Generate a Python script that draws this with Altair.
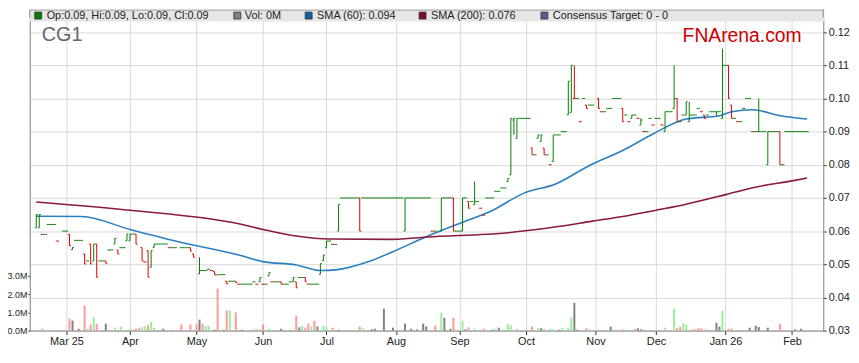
import altair as alt
import pandas as pd
import numpy as np

# ---------------- data ----------------
# x positions are trading-day indices (weekdays) starting Mon 17 Feb 2025
month_days = [10, 31, 53, 75, 96, 119, 140, 162, 185, 205, 228, 250]
month_labels = ["Mar 25", "Apr", "May", "Jun", "Jul", "Aug", "Sep", "Oct",
                "Nov", "Dec", "Jan 26", "Feb"]
price_ticks = [0.03, 0.04, 0.05, 0.06, 0.07, 0.08, 0.09, 0.10, 0.11, 0.12]
vol_ticks = [0, 1, 2, 3]

# days with a price range (open, high, low, close)
bar_days = [0, 1, 11, 12, 16, 18, 19, 20, 23, 26,
            27, 30, 31, 33, 35, 37, 38, 39, 51, 52,
            54, 59, 63, 66, 74, 77, 81, 85, 86, 89,
            94, 95, 96, 100, 107, 122, 134, 138, 141, 143,
            145, 156, 157, 158, 159, 164, 166, 167, 168, 171,
            176, 177, 178, 182, 186, 194, 197, 200, 208, 211,
            212, 215, 216, 221, 225, 227, 229, 230, 239, 242,
            246]
bar_open = [.061, .061, .059, .0544, .0531, .0561, .051, .0561, .051, .0561,
            .0543, .0571, .0571, .0591, .055, .0541, .0491, .055, .055, .0531,
            .0471, .0478, .0449, .0449, .0447, .0465, .0447, .0447, .0447, .046,
            .047, .0511, .055, .060, .07, .06, .06, .07, .06, .0689,
            .068, .0749, .077, .0935, .088, .0851, .088, .087, .085, .081,
            .0951, .0958, .10, .098, .10, .097, .094, .092, .09, .097,
            .10, .095, .093, .095, .096, .094, .11, .098, .09, .08,
            .09]
bar_high = [.065, .065, .059, .0551, .0531, .0561, .0561, .0561, .051, .0578,
            .0543, .0591, .0591, .0591, .055, .0541, .0541, .0561, .055, .0531,
            .0521, .0478, .0449, .0449, .046, .0475, .0447, .046, .0447, .046,
            .0502, .0528, .057, .068, .07, .07, .07, .07, .07, .0689,
            .075, .0759, .094, .094, .094, .0851, .089, .089, .085, .089,
            .1052, .11, .11, .098, .10, .097, .095, .094, .096, .11,
            .10, .099, .099, .095, .096, .115, .11, .098, .10, .09,
            .09]
bar_low = [.061, .061, .0556, .0544, .0501, .0501, .051, .0461, .0503, .0561,
           .0531, .0571, .0571, .0561, .051, .0461, .0491, .055, .054, .0521,
           .0471, .0468, .0441, .0445, .0447, .0465, .044, .0447, .0429, .0447,
           .047, .0511, .055, .060, .06, .06, .06, .06, .06, .0669,
           .068, .0749, .077, .089, .088, .083, .088, .087, .083, .081,
           .0951, .0958, .10, .097, .097, .093, .094, .092, .09, .097,
           .093, .095, .093, .094, .0948, .094, .10, .094, .09, .08,
           .08]
bar_close = [.065, .065, .0556, .0551, .0501, .0501, .0561, .0461, .0503, .0578,
             .0531, .0591, .0591, .0561, .051, .0461, .0541, .0561, .054, .0521,
             .0481, .0468, .0441, .0445, .046, .0475, .044, .046, .0429, .0447,
             .0502, .0528, .057, .068, .06, .07, .07, .06, .07, .0669,
             .0689, .0759, .094, .094, .094, .083, .089, .089, .083, .089,
             .1052, .11, .10, .097, .097, .093, .095, .0935, .096, .10,
             .093, .099, .095, .094, .096, .11, .10, .094, .09, .09,
             .08]

# days that traded at a single price
flat_days = [2, 3, 4, 5, 6, 7, 9, 10, 13, 14,
             15, 17, 21, 22, 24, 25, 28, 29, 32, 36,
             40, 41, 42, 43, 44, 45, 46, 48, 49, 50,
             55, 56, 57, 58, 60, 61, 62, 64, 65, 67,
             68, 69, 70, 71, 72, 73, 75, 76, 78, 79,
             80, 82, 83, 84, 87, 88, 90, 91, 92, 93,
             97, 98, 99, 101, 102, 103, 104, 105, 106, 108,
             109, 110, 111, 112, 113, 114, 115, 116, 117, 118,
             119, 120, 121, 123, 124, 125, 126, 127, 128, 129,
             130, 131, 132, 135, 136, 137, 139, 140, 142, 144,
             146, 147, 148, 149, 150, 151, 152, 153, 154, 155,
             160, 161, 162, 163, 165, 169, 170, 172, 173, 174,
             175, 179, 180, 181, 183, 184, 187, 188, 189, 190,
             191, 192, 193, 195, 196, 198, 199, 201, 202, 203,
             204, 205, 206, 207, 209, 210, 213, 214, 217, 218,
             219, 220, 222, 223, 224, 226, 228, 231, 232, 233,
             234, 235, 236, 237, 238, 240, 241, 243, 244, 245,
             247, 248, 249, 250, 251, 252, 253, 254, 255]
flat_price = [.059, .059, .062, .062, .062, .057, .060, .060, .0572, .0572,
              .0572, .051, .051, .051, .0543, .0543, .055, .055, .0591, .0507,
              .0561, .0561, .0561, .0561, .055, .055, .055, .055, .055, .055,
              .0481, .0481, .0485, .0481, .0468, .0469, .0469, .0449, .0449, .044,
              .044, .044, .044, .044, .0447, .044, .044, .044, .0447, .0447,
              .0447, .044, .044, .0447, .046, .046, .044, .044, .044, .044,
              .057, .056, .056, .07, .07, .07, .07, .07, .07, .07,
              .07, .07, .07, .07, .07, .07, .07, .07, .07, .07,
              .07, .07, .07, .07, .07, .07, .07, .07, .07, .07,
              .07, .06, .06, .07, .07, .07, .06, .06, .07, .0689,
              .0689, .0669, .0648, .07, .07, .07, .072, .072, .073, .073,
              .094, .094, .094, .094, .083, .083, .08, .089, .089, .09,
              .09, .10, .093, .10, .098, .098, .096, .096, .097, .097,
              .10, .10, .10, .095, .093, .095, .094, .09, .09, .094,
              .092, .094, .094, .092, .096, .096, .093, .095, .095, .095,
              .097, .096, .095, .096, .096, .096, .11, .094, .093, .093,
              .097, .10, .10, .09, .09, .09, .09, .09, .09, .09,
              .08, .09, .09, .09, .09, .09, .09, .09, .09]

# volume (millions)
vol_days = [2, 4, 11, 12, 14, 16, 17, 18, 19, 20,
            23, 26, 27, 28, 31, 32, 33, 34, 35, 36,
            37, 38, 39, 42, 45, 48, 51, 53, 54, 55,
            56, 57, 58, 59, 60, 62, 63, 64, 66, 68,
            72, 73, 74, 75, 77, 81, 84, 86, 87, 88,
            89, 90, 91, 92, 93, 95, 96, 98, 100, 107,
            108, 111, 112, 115, 118, 122, 124, 126, 128, 129,
            132, 134, 135, 137, 138, 141, 142, 143, 145, 148,
            151, 152, 153, 154, 156, 157, 159, 164, 166, 167,
            168, 170, 171, 173, 174, 176, 177, 178, 179, 182,
            183, 186, 190, 191, 194, 195, 198, 199, 200, 201,
            204, 208, 211, 212, 213, 214, 215, 217, 218, 219,
            220, 221, 222, 225, 226, 227, 229, 230, 236, 238,
            239, 242, 246, 251, 253]
vol_m = [.1, .05, .65, .55, .1, 1.38, .1, .33, .73, .38,
         .38, .16, .05, .22, .08, .05, .1, .13, .2, .23,
         .3, .47, .16, .1, .05, .33, .33, .33, .6, .38,
         .27, .25, .05, .05, 2.3, .05, 1.1, 1.1, 1.0, .05,
         .1, .07, .08, .33, .1, .1, .05, .82, .18, .27,
         .16, .38, .23, .54, .23, .27, .18, .16, .05, .22,
         .13, .07, .1, 1.2, .16, .38, .1, .07, .38, .23,
         .29, .98, .7, .1, .7, .54, .07, .18, .1, .1,
         .05, .1, .16, .05, .38, .29, .1, .22, .16, .13,
         .07, .1, .07, .05, .14, .18, .72, 1.52, .05, .14,
         .07, .05, .22, .07, .07, .07, .09, .13, .07, .07,
         .05, .16, 1.2, .13, .2, .4, .33, .07, .07, .13,
         .13, .07, .07, .43, .22, 1.09, .1, .1, .16, .27,
         .2, .16, .38, .07, .1]
vol_dir = ["down", "up", "down", "flat", "flat", "down", "up", "down", "up", "down",
           "flat", "up", "down", "up", "up", "down", "down", "down", "up", "up",
           "down", "up", "up", "flat", "down", "down", "down", "down", "flat", "down",
           "up", "up", "up", "flat", "down", "flat", "down", "up", "down", "flat",
           "up", "down", "up", "down", "up", "flat", "down", "down", "flat", "up",
           "down", "down", "up", "down", "flat", "up", "up", "down", "flat", "down",
           "up", "flat", "flat", "flat", "flat", "flat", "flat", "flat", "flat", "flat",
           "down", "up", "flat", "flat", "down", "up", "flat", "down", "up", "down",
           "flat", "up", "flat", "up", "up", "up", "up", "down", "up", "flat",
           "down", "up", "up", "flat", "up", "up", "up", "flat", "flat", "down",
           "up", "down", "flat", "up", "down", "up", "down", "flat", "flat", "down",
           "up", "up", "up", "down", "down", "up", "up", "down", "down", "down",
           "down", "up", "up", "flat", "flat", "up", "down", "down", "flat", "flat",
           "flat", "flat", "down", "flat", "flat"]

# moving averages
sma60_days = [0, 15, 31, 47, 67, 75, 86, 94, 99, 110, 118, 129, 140, 151, 161,
              172, 183, 194, 204, 215, 226, 230, 237, 246, 255]
sma60_vals = [.0645, .0644, .0605, .0568, .0528, .0508, .0498, .0481, .0483, .0508,
              .0538, .0583, .0623, .0663, .0713, .0743, .0798, .0843, .0893, .0938,
              .0948, .0960, .0966, .0948, .0938]
sma200_days = [0, 31, 67, 75, 86, 97, 118, 129, 156, 172, 184, 194, 205, 215, 228, 237, 251, 255]
sma200_vals = [.0688, .0663, .0622, .0605, .0585, .0576, .0575, .0582, .0595, .0613,
               .0630, .0644, .0663, .0681, .0710, .0731, .0753, .0760]

legend_labels = ["Op:0.09, Hi:0.09, Lo:0.09, Cl:0.09", "Vol: 0M", "SMA (60): 0.094",
                 "SMA (200): 0.076", "Consensus Target: 0 - 0"]
legend_colors = ["#008000", "#808080", "#0a64a4", "#7a0a2a", "#5b5b8f"]

# ---------------- build tables ----------------
bars = pd.DataFrame({"day": bar_days, "o": bar_open, "h": bar_high, "l": bar_low, "c": bar_close})
flats = pd.DataFrame({"day": flat_days, "o": flat_price, "h": flat_price, "l": flat_price, "c": flat_price})
ohlc = pd.concat([bars, flats]).sort_values("day").reset_index(drop=True)
prev = ohlc["c"].shift(1).fillna(ohlc["c"])
ohlc["dir"] = np.where(ohlc["c"] > ohlc["o"], "up",
               np.where(ohlc["c"] < ohlc["o"], "down",
               np.where(ohlc["c"] >= prev, "up", "down")))
ohlc["xl"] = ohlc["day"] - 0.5
ohlc["xr"] = ohlc["day"] + 0.5

vol = pd.DataFrame({"day": vol_days, "vol": vol_m, "dir": vol_dir})
sma = pd.concat([
    pd.DataFrame({"day": sma60_days, "v": sma60_vals, "s": "SMA60"}),
    pd.DataFrame({"day": sma200_days, "v": sma200_vals, "s": "SMA200"}),
])

# ---------------- chart ----------------
FONT = "Liberation Sans"
W, H = 801, 316
xs = alt.Scale(domain=[-0.5, 258.7], nice=False, zero=False)
ps = alt.Scale(domain=[0.03, 0.1244], nice=False, zero=False)
vs = alt.Scale(domain=[0, 17.17], nice=False, zero=True)

label_expr = " : ".join(f"datum.value == {d} ? '{l}'" for d, l in zip(month_days, month_labels)) + " : ''"

x_axis = alt.Axis(values=month_days, labelExpr=label_expr, grid=True, gridColor="#d9d9d9",
                  domainColor="#8a8a8a", tickColor="#333333", tickSize=4, labelFontSize=11,
                  labelColor="#222222", labelFont=FONT, labelPadding=1, title=None,
                  labelFlush=False, labelOverlap=False)
price_axis = alt.Axis(orient="right", values=price_ticks, format=".2f", grid=True,
                      gridColor="#d9d9d9", domainColor="#8a8a8a", tickColor="#333333",
                      tickSize=3, labelFontSize=11, labelColor="#222222", labelFont=FONT,
                      labelPadding=2, title=None, labelFlush=False, labelOverlap=False)
vol_axis = alt.Axis(orient="left", values=vol_ticks,
                    labelExpr="format(datum.value, '.1f') + 'M'", grid=False,
                    domainColor="#8a8a8a", tickColor="#333333", tickSize=2, labelFontSize=9,
                    labelColor="#222222", labelFont=FONT, labelPadding=1, title=None,
                    labelFlush=False, labelOverlap=False)

vol_color = alt.Color("dir:N", scale=alt.Scale(domain=["up", "down", "flat"],
                      range=["#99ee99", "#ff9999", "#808080"]), legend=None)
price_color = alt.Color("dir:N", scale=alt.Scale(domain=["up", "down"],
                        range=["#008000", "#dd0000"]), legend=None)

vol_layer = alt.Chart(vol).mark_bar(size=2, orient="vertical").encode(
    x=alt.X("day:Q", scale=xs, axis=x_axis),
    y=alt.Y("vol:Q", scale=vs, axis=vol_axis),
    color=vol_color,
)

sma_layer = alt.Chart(sma).mark_line(strokeWidth=1.6, interpolate="monotone").encode(
    x=alt.X("day:Q", scale=xs, axis=x_axis),
    y=alt.Y("v:Q", scale=ps, axis=price_axis),
    color=alt.Color("s:N", scale=alt.Scale(domain=["SMA60", "SMA200"],
                    range=["#2b7fc0", "#8b1a40"]), legend=None),
    detail="s:N",
)

base = alt.Chart(ohlc)
hl_layer = base.mark_rule(strokeWidth=1).encode(
    x=alt.X("day:Q", scale=xs, axis=x_axis),
    y=alt.Y("l:Q", scale=ps, axis=None),
    y2="h:Q",
    color=price_color,
)
open_layer = base.mark_rule(strokeWidth=1).encode(
    x=alt.X("xl:Q", scale=xs, axis=x_axis),
    x2="day:Q",
    y=alt.Y("o:Q", scale=ps, axis=None),
    color=price_color,
)
close_layer = base.mark_rule(strokeWidth=1).encode(
    x=alt.X("day:Q", scale=xs, axis=x_axis),
    x2="xr:Q",
    y=alt.Y("c:Q", scale=ps, axis=None),
    color=price_color,
)

one = pd.DataFrame({"k": [0]})
deco = []
deco.append(alt.Chart(one).mark_rect(fill="#e6e6e6").encode(
    x=alt.value(0), x2=alt.value(802), y=alt.value(-8), y2=alt.value(4)))
deco.append(alt.Chart(one).mark_rule(color="#a0a0a0", strokeWidth=1).encode(
    x=alt.value(0), x2=alt.value(802), y=alt.value(-7.5)))
deco.append(alt.Chart(one).mark_rule(color="#8a8a8a", strokeWidth=1).encode(
    x=alt.value(0), y=alt.value(-8), y2=alt.value(0)))
deco.append(alt.Chart(one).mark_rule(color="#8a8a8a", strokeWidth=1).encode(
    x=alt.value(801), y=alt.value(-8), y2=alt.value(0)))

sq_x = [5, 206, 278, 393, 516]
tx_x = [17, 217, 290, 405, 528]
for lab, col, sx, tx in zip(legend_labels, legend_colors, sq_x, tx_x):
    deco.append(alt.Chart(one).mark_rect(fill=col, stroke="#333333", strokeWidth=0.8).encode(
        x=alt.value(sx), x2=alt.value(sx + 7), y=alt.value(-5.5), y2=alt.value(1.5)))
    deco.append(alt.Chart(one).mark_text(text=lab, font=FONT, fontSize=11, color="#222222",
                                         align="left", baseline="middle").encode(
        x=alt.value(tx), y=alt.value(-2)))

deco.append(alt.Chart(one).mark_text(text="CG1", font=FONT, fontSize=20, color="#666666",
                                     align="left", baseline="alphabetic").encode(
    x=alt.value(12), y=alt.value(24)))
deco.append(alt.Chart(one).mark_text(text="FNArena.com", font=FONT, fontSize=19.5,
                                     color="#cc0000", align="left",
                                     baseline="alphabetic").encode(
    x=alt.value(659), y=alt.value(25)))

chart = alt.layer(
    vol_layer, sma_layer, hl_layer, open_layer, close_layer, *deco
).resolve_scale(
    y="independent", color="independent"
).properties(
    width=W, height=H,
    autosize=alt.AutoSizeParams(type="none"),
    padding={"left": 22, "top": 8, "right": 28, "bottom": 22},
).configure_view(stroke=None).configure(background="white")

chart.save("out.html", embed_options={"renderer": "svg", "actions": False})
